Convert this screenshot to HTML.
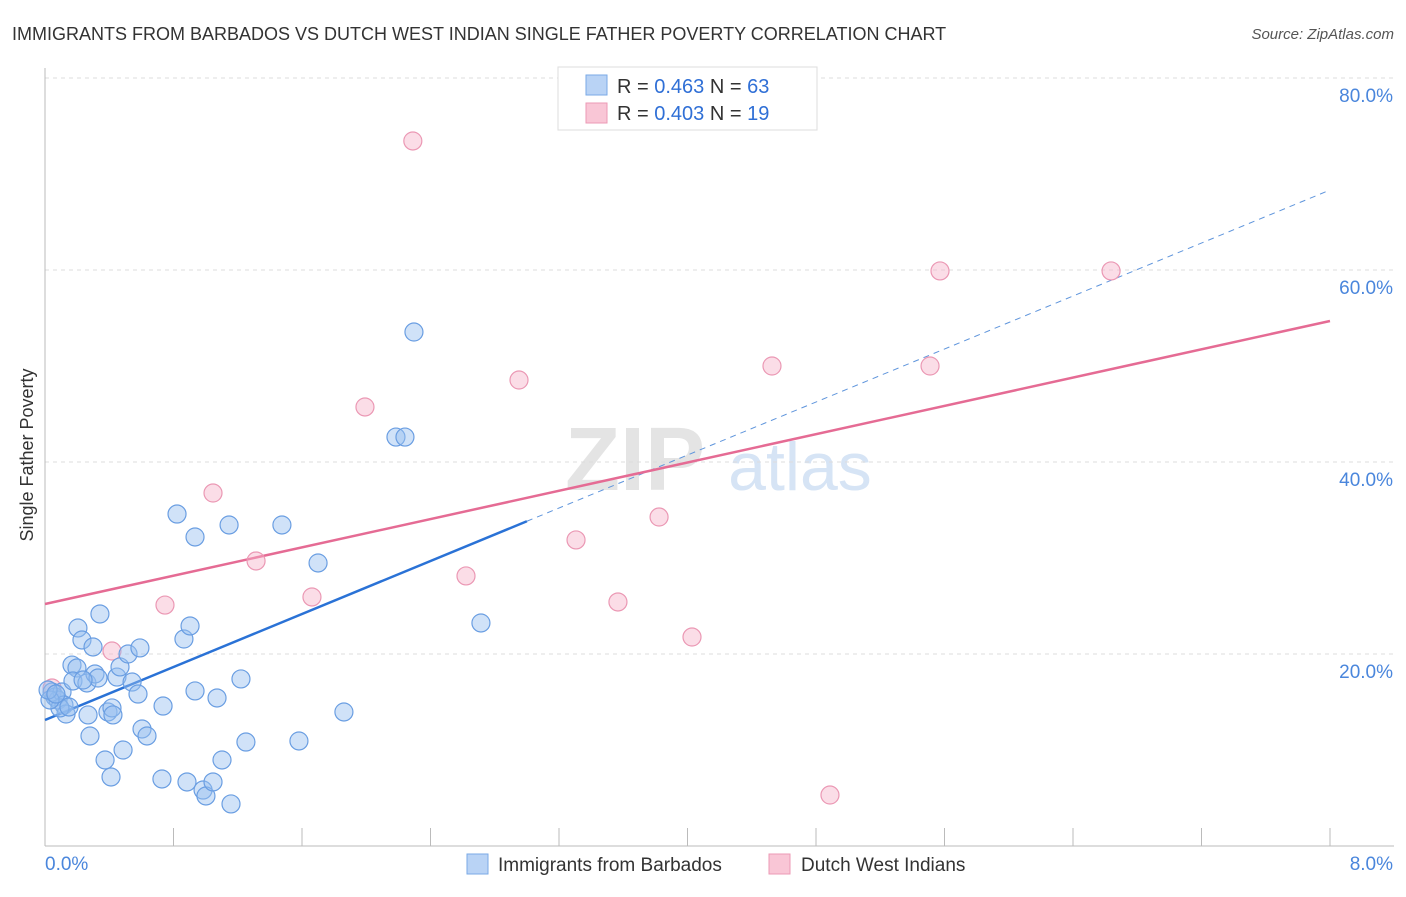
<!DOCTYPE html>
<html><head><meta charset="utf-8"><style>
body{margin:0;background:#fff;font-family:"Liberation Sans",sans-serif;}
svg text{font-family:"Liberation Sans",sans-serif;}
</style></head><body>
<svg id="chart" width="1406" height="892" viewBox="0 0 1406 892">
<text x="12" y="40" font-size="18" fill="#333">IMMIGRANTS FROM BARBADOS VS DUTCH WEST INDIAN SINGLE FATHER POVERTY CORRELATION CHART</text>
<text x="1394" y="39" font-size="15" fill="#555" text-anchor="end" font-style="italic">Source: ZipAtlas.com</text>
<text x="33" y="455" font-size="18" fill="#333" text-anchor="middle" transform="rotate(-90 33 455)">Single Father Poverty</text>
<g><text x="635" y="490" font-size="90" fill="#e4e4e4" font-family="Liberation Serif" text-anchor="middle" font-weight="bold">ZIP</text><text x="800" y="490" font-size="68" fill="#d6e4f5" text-anchor="middle">atlas</text></g>
<g id="grid"></g><g id="axes"></g><g id="lines"></g><g id="points"></g>
<g>
<rect x="558" y="67" width="259" height="63" fill="#fff" stroke="#ddd"/>
<rect x="586" y="75" width="21" height="20" fill="#b9d3f5" stroke="#7aaae6"/>
<rect x="586" y="103" width="21" height="20" fill="#f9c6d6" stroke="#ec9ab5"/>
<text x="617" y="93" font-size="20" fill="#333">R = <tspan fill="#2f6fd6">0.463</tspan>   N = <tspan fill="#2f6fd6">63</tspan></text>
<text x="617" y="120" font-size="20" fill="#333">R = <tspan fill="#2f6fd6">0.403</tspan>   N = <tspan fill="#2f6fd6"> 19</tspan></text>
</g>
<g>
<rect x="467" y="854" width="21" height="20" fill="#b9d3f5" stroke="#7aaae6"/>
<text x="498" y="871" font-size="19" fill="#333">Immigrants from Barbados</text>
<rect x="769" y="854" width="21" height="20" fill="#f9c6d6" stroke="#ec9ab5"/>
<text x="801" y="871" font-size="19" fill="#333">Dutch West Indians</text>
</g>
</svg>
<script>
const yTicks=[20,40,60,80];
const yTickLabels=["20.0%","40.0%","60.0%","80.0%"];
const blueX=[0.044,0.062,0.081,0.106,0.118,0.131,0.093,0.031,0.205,0.230,0.299,0.342,0.168,0.199,0.174,0.261,0.311,0.330,0.237,0.268,0.280,0.374,0.411,0.392,0.417,0.448,0.467,0.486,0.517,0.542,0.591,0.579,0.604,0.635,0.728,0.735,0.822,0.865,0.903,0.934,0.934,0.884,0.984,1.002,1.046,1.071,1.102,1.146,1.158,1.220,1.251,1.475,1.581,1.700,1.861,2.185,2.241,2.297,2.714,0.019,0.068,0.149,0.423];
const blueY=[16.04,15.52,15.21,16.04,14.69,13.75,14.38,15.21,22.71,21.46,20.73,24.17,18.85,18.54,17.19,16.98,17.92,17.50,17.29,13.65,11.46,8.96,7.19,13.96,14.38,17.60,18.65,10.00,20.00,17.08,20.63,15.83,12.19,11.46,6.98,14.58,34.58,21.56,22.92,32.19,16.15,6.67,5.83,5.21,6.67,15.42,8.96,33.44,4.38,17.40,10.83,33.44,10.94,29.48,13.96,42.60,42.60,53.54,23.23,16.25,15.83,14.48,13.65];
const pinkX=[2.290,5.572,6.637,4.526,5.510,2.951,1.992,1.046,3.823,3.306,1.314,2.621,1.662,0.747,3.567,4.028,0.417,4.887,0.044];
const pinkY=[73.44,59.90,59.90,50.00,50.00,48.54,45.73,36.77,34.27,31.88,29.69,28.13,25.94,25.10,25.42,21.77,20.31,5.31,16.46];
const blueTrend=[13.125,68.33];
const pinkTrend=[25.21,54.69];
const blueSolidEnd=3.0;
const NS="http://www.w3.org/2000/svg";
const sx=v=>45+v/8*1285, sy=v=>846-v/20*192;
function mk(tag,attrs,parent){const e=document.createElementNS(NS,tag);for(const k in attrs)e.setAttribute(k,attrs[k]);document.getElementById(parent).appendChild(e);return e;}
yTicks.forEach((t,i)=>{
 const g=mk('line',{x1:45,x2:1394,y1:sy(t),y2:sy(t),stroke:'#ddd','stroke-dasharray':'4,4'},'grid');
 
 
 const l=mk('text',{x:1393,y:sy(t)+24,'font-size':19,fill:'#4a86dc','text-anchor':'end'},'grid');
 l.textContent=yTickLabels[i];
 
 
});
const ax=mk('line',{x1:45,x2:45,y1:68,y2:846,stroke:'#bbb'},'axes');


const bx=mk('line',{x1:45,x2:1394,y1:846,y2:846,stroke:'#bbb'},'axes');


for(let i=0;i<=10;i++){const t=mk('line',{x1:sx(i*0.8),x2:sx(i*0.8),y1:828,y2:846,stroke:'#bbb'},'axes');
 
 }
const x0=mk('text',{x:45,y:870,'font-size':19,fill:'#4a86dc'},'axes');x0.textContent='0.0%';


const x1=mk('text',{x:1393,y:870,'font-size':19,fill:'#4a86dc','text-anchor':'end'},'axes');x1.textContent='8.0%';


const by=x=>blueTrend[0]+(blueTrend[1]-blueTrend[0])*x/8, py=x=>pinkTrend[0]+(pinkTrend[1]-pinkTrend[0])*x/8;
const bd=mk('line',{x1:sx(blueSolidEnd),y1:sy(by(blueSolidEnd)),x2:sx(8),y2:sy(by(8)),stroke:'#5f95dc','stroke-width':1,'stroke-dasharray':'6,5'},'lines');


const pl=mk('line',{x1:sx(0),y1:sy(py(0)),x2:sx(8),y2:sy(py(8)),stroke:'#e56b94','stroke-width':2.5},'lines');


const bl=mk('line',{x1:sx(0),y1:sy(by(0)),x2:sx(blueSolidEnd),y2:sy(by(blueSolidEnd)),stroke:'#2a72d6','stroke-width':2.5},'lines');


pinkX.forEach((x,i)=>{const c=mk('circle',{cx:sx(x),cy:sy(pinkY[i]),r:9,fill:'rgba(246,180,202,0.45)',stroke:'#eb98b4','stroke-width':1.2},'points');
 
 });
blueX.forEach((x,i)=>{const c=mk('circle',{cx:sx(x),cy:sy(blueY[i]),r:9,fill:'rgba(150,190,240,0.45)',stroke:'#6a9ee2','stroke-width':1.2},'points');
 
 });
</script>
</body></html>
